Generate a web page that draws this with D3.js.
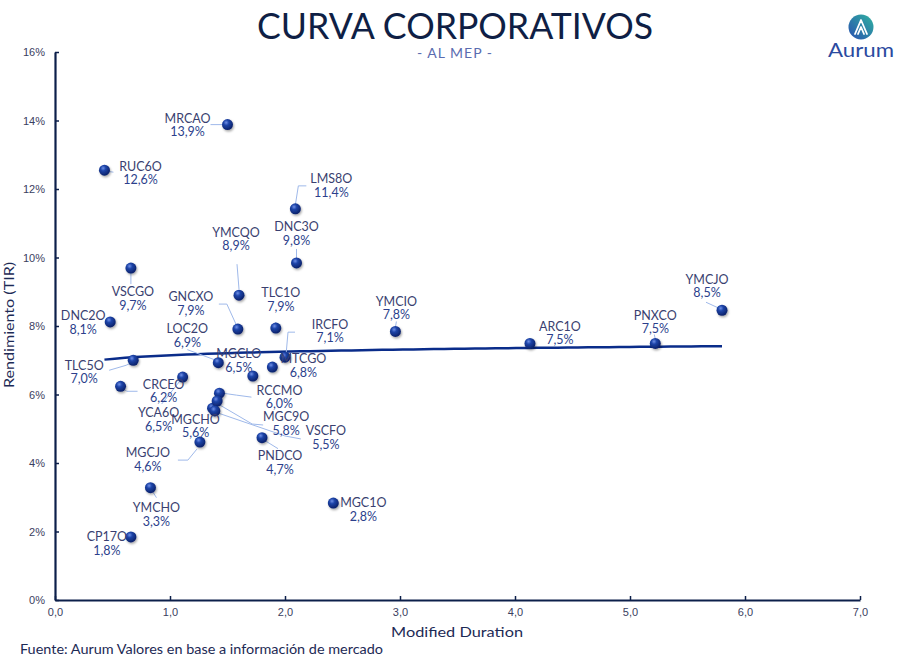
<!DOCTYPE html>
<html>
<head>
<meta charset="utf-8">
<script src="https://cdn.jsdelivr.net/npm/d3@7"></script>
<style>
  body { margin: 0; background: #fff; }
  svg { font-family: Lato, "Open Sans", sans-serif; }
  .axis path, .axis line { stroke: #0c1f4a; }
  .axis text { fill: #3a4060; font-size: 11px; }
</style>
</head>
<body>
<svg id="chart"></svg>
<script>
var width = 910;
var height = 661;

// datos
var tickers = ['MRCAO', 'RUC6O', 'LMS8O', 'DNC3O', 'YMCQO', 'VSCGO', 'DNC2O', 'GNCXO', 'TLC1O', 'IRCFO',
  'MTCGO', 'LOC2O', 'MGCLO', 'TLC5O', 'CRCEO', 'YCA6O', 'MGCHO', 'RCCMO', 'MGC9O', 'VSCFO',
  'PNDCO', 'MGCJO', 'YMCHO', 'CP17O', 'MGC1O', 'YMCIO', 'ARC1O', 'PNXCO', 'YMCJO'];
var duration = [1.50, 0.43, 2.09, 2.10, 1.60, 0.66, 0.48, 1.59, 1.92, 2.00,
  1.89, 1.42, 1.72, 0.68, 0.57, 1.11, 1.37, 1.43, 1.41, 1.39,
  1.80, 1.26, 0.83, 0.66, 2.42, 2.96, 4.13, 5.22, 5.80];
var tir = [13.88, 12.55, 11.42, 9.84, 8.90, 9.69, 8.12, 7.91, 7.94, 7.09,
  6.80, 6.93, 6.54, 7.00, 6.24, 6.51, 5.60, 6.04, 5.81, 5.52,
  4.74, 4.61, 3.28, 1.84, 2.83, 7.84, 7.49, 7.49, 8.46];
var xTicks = [0, 1, 2, 3, 4, 5, 6, 7];
var yTicks = [0, 2, 4, 6, 8, 10, 12, 14, 16];

// ubicacion de etiquetas (dx, dy del nombre respecto al punto) y lineas guia
var labelPos = {
  MRCAO: [-40, -6], RUC6O: [36, -4], LMS8O: [36, -30], DNC3O: [0, -36], YMCQO: [-3, -63],
  VSCGO: [2, 24], DNC2O: [-27, -6], GNCXO: [-47, -32], TLC1O: [5, -35], IRCFO: [45, -33],
  MTCGO: [31, -8], LOC2O: [-31, -34], MGCLO: [-14, -22], TLC5O: [-49, 5], CRCEO: [43, -2],
  YCA6O: [-24, 36], MGCHO: [-17, 11], RCCMO: [60, -3], MGC9O: [69, 16], VSCFO: [111, 20],
  PNDCO: [18, 18], MGCJO: [-52, 11], YMCHO: [6, 20], CP17O: [-24, 0], MGC1O: [30, 0],
  YMCIO: [1, -30], ARC1O: [30, -17], PNXCO: [0, -28], YMCJO: [-15, -31]
};
var leaders = {
  MRCAO: [[-17, 0], [-5, 0]], RUC6O: [[9, 2], [2, 1]], LMS8O: [[11, -23], [3, -23], [0, -4]],
  DNC3O: [[0, -14], [0, -5]], YMCQO: [[-2, -31], [0, -6]], VSCGO: [[0, 16], [0, 5]],
  GNCXO: [[-19, -25], [-11, -25], [-1, -3]], TLC1O: [[0, -6], [0, -2]],
  IRCFO: [[10, -25], [3, -25], [1, -2]], LOC2O: [[-31, -13], [-4, -3]],
  TLC5O: [[-24, 10], [-7, 5], [-1, 2]], CRCEO: [[17, 5], [6, 5], [2, 1]],
  YCA6O: [[-21, 27], [-2, 3]], RCCMO: [[32, 4], [17, 2], [3, 0]],
  MGC9O: [[46, 24], [35, 23], [1, 3]], VSCFO: [[86, 28], [70, 25], [3, 2]],
  PNDCO: [[16, 11], [3, 3]], MGCJO: [[-22, 18], [-12, 18], [-3, 7]],
  YMCHO: [[6, 10], [1, 2]], YMCIO: [[1, -10], [0, -4]], PNXCO: [[-1, -9], [0, -4]],
  YMCJO: [[-16, -8], [-3, -2]]
};

var points = tickers.map(function(t, i) {
  return { name: t, dur: duration[i], tir: tir[i] };
});

var svg = d3.select('#chart')
  .attr('width', width)
  .attr('height', height);

var defs = svg.append('defs');
var ball = defs.append('radialGradient').attr('id', 'ball')
  .attr('cx', '38%').attr('cy', '32%').attr('r', '70%');
ball.append('stop').attr('offset', '0%').attr('stop-color', '#6f8fe6');
ball.append('stop').attr('offset', '35%').attr('stop-color', '#1d44a8');
ball.append('stop').attr('offset', '100%').attr('stop-color', '#0a1f66');
var shadow = defs.append('filter').attr('id', 'shadow')
  .attr('x', '-50%').attr('y', '-50%').attr('width', '200%').attr('height', '200%');
shadow.append('feDropShadow').attr('dx', 1).attr('dy', 1.5).attr('stdDeviation', 1)
  .attr('flood-color', '#000').attr('flood-opacity', 0.35);
var logoGrad = defs.append('linearGradient').attr('id', 'logoGrad')
  .attr('x1', '100%').attr('y1', '0%').attr('x2', '0%').attr('y2', '100%');
logoGrad.append('stop').attr('offset', '0%').attr('stop-color', '#2fb3a0');
logoGrad.append('stop').attr('offset', '100%').attr('stop-color', '#2a4fb0');

var x = d3.scaleLinear().domain([0, 7]).range([55, 860]);
var y = d3.scaleLinear().domain([0, 16]).range([600, 52]);

// titulo
svg.append('text')
  .attr('x', 455).attr('y', 39)
  .attr('text-anchor', 'middle')
  .attr('textLength', 396).attr('lengthAdjust', 'spacingAndGlyphs')
  .style('font-size', '36px').style('fill', '#0f1f45')
  .text('CURVA CORPORATIVOS');
svg.append('text')
  .attr('x', 455).attr('y', 58)
  .attr('text-anchor', 'middle')
  .style('font-size', '14px').style('letter-spacing', '1px').style('fill', '#5a6cb0')
  .text('- AL MEP -');

// logo
svg.append('circle').attr('cx', 861).attr('cy', 27).attr('r', 12.5).attr('fill', 'url(#logoGrad)');
svg.append('path')
  .attr('d', 'M855,34 L861,20 L867,34 M858,34 L861,27 L864,34')
  .attr('fill', 'none').attr('stroke', '#fff').attr('stroke-width', 1.8)
  .attr('stroke-linejoin', 'round').attr('stroke-linecap', 'round');
svg.append('text')
  .attr('x', 861).attr('y', 57)
  .attr('text-anchor', 'middle')
  .attr('textLength', 66).attr('lengthAdjust', 'spacingAndGlyphs')
  .style('font-size', '19px').style('fill', '#2a4aa0')
  .text('Aurum');

// ejes
var gx = svg.append('g').attr('class', 'axis')
  .attr('transform', 'translate(0,600)')
  .call(d3.axisBottom(x).tickValues(xTicks).tickSize(-4).tickSizeOuter(0).tickPadding(8)
    .tickFormat(function(d) { return d3.format('.1f')(d).replace('.', ','); }));
var gy = svg.append('g').attr('class', 'axis')
  .attr('transform', 'translate(55,0)')
  .call(d3.axisLeft(y).tickValues(yTicks).tickSize(-4).tickSizeOuter(0).tickPadding(10)
    .tickFormat(function(d) { return d + '%'; }));
svg.selectAll('.axis path').attr('stroke-width', 2.2);
svg.selectAll('.axis line').attr('stroke-width', 1.5);

svg.append('text')
  .attr('transform', 'translate(14,325) rotate(-90)')
  .attr('text-anchor', 'middle')
  .attr('textLength', 126).attr('lengthAdjust', 'spacingAndGlyphs')
  .style('font-size', '14px').style('fill', '#1d2a55')
  .text('Rendimiento (TIR)');
svg.append('text')
  .attr('x', 457).attr('y', 637)
  .attr('text-anchor', 'middle')
  .attr('textLength', 132).attr('lengthAdjust', 'spacingAndGlyphs')
  .style('font-size', '14px').style('fill', '#1d2a55')
  .text('Modified Duration');
svg.append('text')
  .attr('x', 20).attr('y', 654)
  .attr('textLength', 363).attr('lengthAdjust', 'spacingAndGlyphs')
  .style('font-size', '12.5px').style('fill', '#1d2a55')
  .text('Fuente: Aurum Valores en base a información de mercado');

// linea de tendencia logaritmica (ajuste sobre los datos)
var lx = points.map(function(d) { return Math.log(d.dur); });
var mx = d3.mean(lx), my = d3.mean(points, function(d) { return d.tir; });
var sxy = d3.sum(points, function(d, i) { return (lx[i] - mx) * (d.tir - my); });
var sxx = d3.sum(lx, function(v) { return (v - mx) * (v - mx); });
var b = sxy / sxx, a = my - b * mx;
var xmin = d3.min(duration), xmax = d3.max(duration);
var trend = d3.range(0, 61).map(function(k) {
  var v = xmin + (xmax - xmin) * k / 60;
  return [v, a + b * Math.log(v)];
});
svg.append('path')
  .datum(trend)
  .attr('fill', 'none')
  .attr('stroke', '#0a2c8a')
  .attr('stroke-width', 2.5)
  .attr('d', d3.line().x(function(d) { return x(d[0]); }).y(function(d) { return y(d[1]); }));

// lineas guia
svg.append('g').selectAll('polyline')
  .data(points.filter(function(d) { return leaders[d.name]; }))
  .enter()
  .append('polyline')
  .attr('fill', 'none')
  .attr('stroke', '#9fb9ea')
  .attr('stroke-width', 1)
  .attr('points', function(d) {
    var px = x(d.dur), py = y(d.tir);
    return leaders[d.name].map(function(o) { return (px + o[0]) + ',' + (py + o[1]); }).join(' ');
  });

// puntos
svg.append('g').selectAll('circle')
  .data(points)
  .enter()
  .append('circle')
  .attr('cx', function(d) { return x(d.dur); })
  .attr('cy', function(d) { return y(d.tir); })
  .attr('r', 5.5)
  .attr('fill', 'url(#ball)')
  .attr('filter', 'url(#shadow)');

// etiquetas
var lab = svg.append('g').selectAll('g')
  .data(points)
  .enter()
  .append('g')
  .attr('transform', function(d) {
    var o = labelPos[d.name];
    return 'translate(' + (x(d.dur) + o[0]) + ',' + (y(d.tir) + o[1]) + ')';
  });
lab.append('text')
  .attr('text-anchor', 'middle')
  .attr('dy', '0.35em')
  .style('font-size', '12.5px').style('fill', '#3a3f70')
  .text(function(d) { return d.name; });
lab.append('text')
  .attr('text-anchor', 'middle')
  .attr('y', 13.5)
  .attr('dy', '0.35em')
  .style('font-size', '12.5px').style('fill', '#2c3f8c')
  .text(function(d) { return d3.format('.1f')(d.tir).replace('.', ',') + '%'; });
</script>
</body>
</html>
